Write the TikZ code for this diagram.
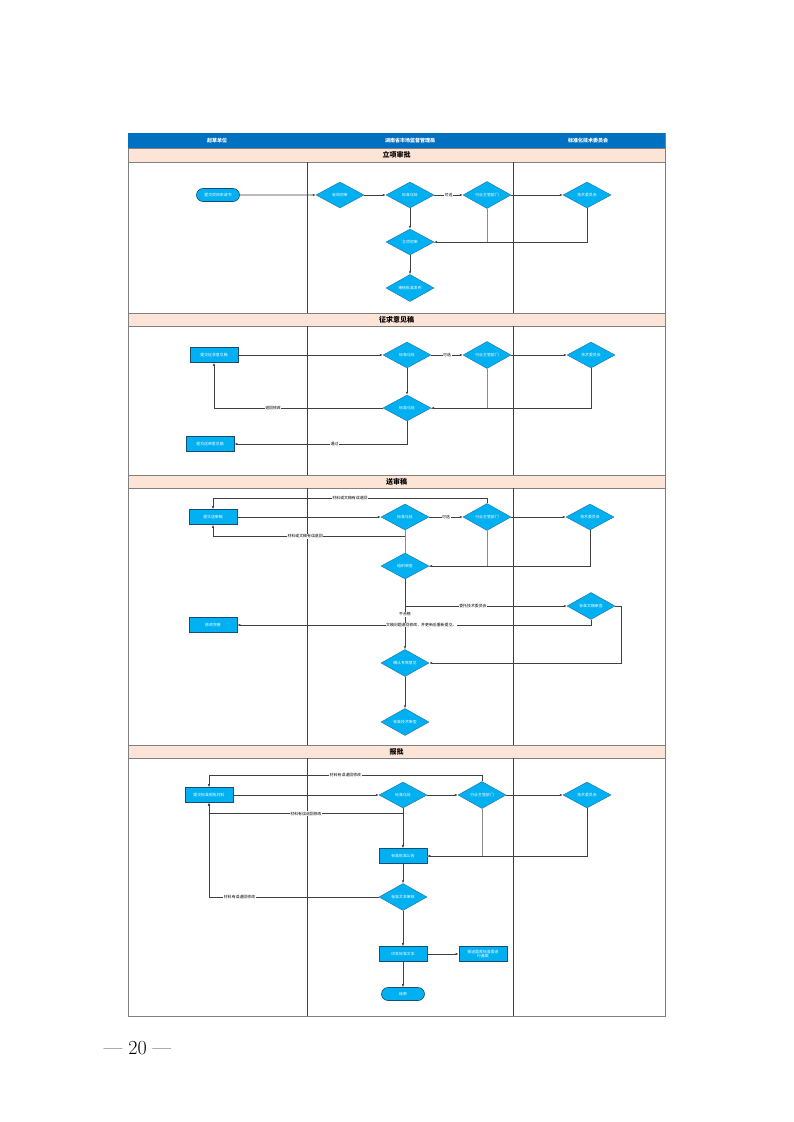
\documentclass[tikz,border=0pt]{standalone}
\usepackage{fontspec}
\newfontfamily\cjk{Noto Sans CJK SC}
\usetikzlibrary{shapes.geometric,shapes.misc,arrows.meta}
\definecolor{hdr}{HTML}{0070C0}
\definecolor{band}{HTML}{FCE4D6}
\definecolor{cy}{HTML}{00B0F0}
\definecolor{cyb}{HTML}{1F6FA8}
\definecolor{ln}{HTML}{404040}
\definecolor{frame}{HTML}{808080}
\tikzset{
  shapetext/.style={font=\cjk\fontsize{3.9}{4.5}\selectfont, text=white},
  dia/.style={diamond, draw=cyb, fill=cy, line width=0.4pt, minimum width=48pt, minimum height=26pt, inner sep=0pt, shapetext},
  pbox/.style={rectangle, draw=cyb!70!black, fill=cy, line width=0.6pt, minimum width=48pt, minimum height=15pt, inner sep=0.5pt, shapetext},
  term/.style={rounded rectangle, draw=cyb!70!black, fill=cy, line width=0.6pt, minimum width=44pt, minimum height=13pt, inner sep=0.5pt, shapetext},
  lbl/.style={fill=white, inner sep=0.6pt, font=\cjk\fontsize{3.9}{4.5}\selectfont, text=black},
  conn/.style={draw=ln, line width=0.6pt, -{Latex[length=3pt,width=2.4pt]}},
  plainln/.style={draw=ln!60, line width=0.7pt},
  divline/.style={draw=ln, line width=0.8pt},
  bandbox/.style={draw=frame, fill=band, line width=0.6pt},
  bandtitle/.style={font=\cjk\bfseries\fontsize{7}{8}\selectfont, text=black},
  hdrtitle/.style={font=\cjk\bfseries\fontsize{5}{6}\selectfont, text=white},
}
\begin{document}
\begin{tikzpicture}[x=1pt,y=-1pt]
\fill[white] (0,0) rectangle (793,1122);
\useasboundingbox (0,0) rectangle (793,1122);

% table frame
\draw[frame, line width=0.8pt] (128,133) rectangle (665,1016);
\fill[hdr] (128,133) rectangle (665,148);
\node[hdrtitle] (h1) at (217,140.5) {起草单位};
\node[hdrtitle] (h2) at (410,140.5) {湖南省市场监督管理局};
\node[hdrtitle] (h3) at (588,140.5) {标准化技术委员会};

% bands
\draw[bandbox] (128,148) rectangle (665,162);
\node[bandtitle] (t1) at (396.5,155) {立项审批};
\draw[bandbox] (128,313) rectangle (665,326);
\node[bandtitle] (t2) at (396.5,319.5) {征求意见稿};
\draw[bandbox] (128,475) rectangle (665,488);
\node[bandtitle] (t3) at (396.5,481.5) {送审稿};
\draw[bandbox] (128,745) rectangle (665,758);
\node[bandtitle] (t4) at (396.5,751.5) {报批};

% lane dividers
\foreach \a/\b in {162/313, 326/475, 488/745, 758/1016}{
  \draw[divline] (307.5,\a) -- (307.5,\b);
  \draw[divline] (513.5,\a) -- (513.5,\b);
}

% ---------- Section 1 ----------
\node[term] (s1a) at (218,195) {提交项目申请书};
\node[dia] (s1b) at (340,195) {省局初审};
\node[dia] (s1c) at (410,195) {标准化处};
\node[dia] (s1d) at (487,195) {行业主管部门};
\node[dia] (s1e) at (587,195) {技术委员会};
\node[dia] (s1f) at (410,242) {立项初审};
\node[dia] (s1g) at (410,288) {审核批准发布};
\draw[conn] (s1a) -- (s1b);
\draw[conn] (s1b) -- (s1c);
\draw[conn] (s1c) -- node[lbl]{可选} (s1d);
\draw[conn] (s1d) -- (s1e);
\draw[conn] (s1c) -- (s1f);
\draw[plainln] (s1d.south) |- (s1f.east);
\draw[conn] (s1e.south) |- (s1f.east);
\draw[conn] (s1f) -- (s1g);

% ---------- Section 2 ----------
\node[pbox] (s2a) at (214,355) {提交征求意见稿};
\node[dia] (s2b) at (407,355) {标准化处};
\node[dia] (s2c) at (487,355) {行业主管部门};
\node[dia] (s2d) at (591,355) {技术委员会};
\node[dia] (s2e) at (407,408) {标准化处};
\node[pbox] (s2f) at (210,444) {提交送审意见稿};
\draw[conn] (s2a) -- (s2b);
\draw[conn] (s2b) -- node[lbl]{可选} (s2c);
\draw[conn] (s2c) -- (s2d);
\draw[conn] (s2b) -- (s2e);
\draw[plainln] (s2c.south) |- (s2e.east);
\draw[conn] (s2d.south) |- (s2e.east);
\draw[conn] (s2e.west) -| node[lbl,pos=0.325]{退回修改} (s2a.south);
\draw[conn] (s2e.south) |- node[lbl,pos=0.71]{通过} (s2f.east);

% ---------- Section 3 ----------
\node[pbox] (s3a) at (213,517) {提交送审稿};
\node[dia] (s3b) at (405,517) {标准化处};
\node[dia] (s3c) at (487,517) {行业主管部门};
\node[dia] (s3d) at (590,517) {技术委员会};
\node[dia] (s3e) at (405,566) {组织审查};
\node[dia] (s3f) at (591,606) {标准文稿审查};
\node[pbox] (s3g) at (213,625) {修改完善};
\node[dia] (s3h) at (405,663) {确认专家意见};
\node[dia] (s3i) at (405,722) {标准技术审查};
\draw[conn] (s3a) -- (s3b);
\draw[conn] (s3b) -- node[lbl]{可选} (s3c);
\draw[conn] (s3c) -- (s3d);
\draw[conn] (s3c.north) -- ++(0,-5) -| node[lbl,pos=0.25]{材料或文稿有误退回} (s3a.north);
\draw[conn] (s3b.south) -- ++(0,6) -| node[lbl,pos=0.26]{材料或文稿有误退回} (s3a.south);
\draw[plainln] (s3b.south) -- (s3e.north);
\draw[plainln] (s3c.south) |- (s3e.east);
\draw[conn] (s3d.south) |- (s3e.east);
\draw[conn] (s3e.south) |- node[lbl,pos=0.71]{委托技术委员会} (s3f.west);
\draw[conn, line width=0.9pt] (s3e.south) -- node[lbl,pos=0.5]{不合格} (s3h.north);
\draw[conn] (s3f.south) |- node[lbl,pos=0.74]{文稿问题退回修改，并更新后重新提交。} (s3g.east);
\draw[conn] (s3f.east) -- ++(6,0) |- (s3h.east);
\draw[conn, line width=0.9pt] (s3h) -- (s3i);

% ---------- Section 4 ----------
\node[pbox] (s4a) at (209,795) {提交标准报批材料};
\node[dia] (s4b) at (403,795) {标准化处};
\node[dia] (s4c) at (482,795) {行业主管部门};
\node[dia] (s4d) at (587,795) {技术委员会};
\node[pbox] (s4e) at (403,856) {标准批准公告};
\node[dia] (s4f) at (403,897) {标准文本审核};
\node[pbox] (s4g) at (403,954) {印发标准文本};
\node[pbox, align=center] (s4h) at (483,954) {报送国家标准委进\\行备案};
\node[term] (s4i) at (403,994) {结束};
\draw[conn] (s4a) -- (s4b);
\draw[conn] (s4b) -- (s4c);
\draw[conn] (s4c) -- (s4d);
\draw[conn] (s4c.north) -- ++(0,-6) -| node[lbl,pos=0.25]{材料有误退回修改} (s4a.north);
\draw[conn] (s4b.south) -- ++(0,5.5) -| node[lbl,pos=0.25]{材料有误退回修改} (s4a.south);
\draw[conn] (s4b.south) -- (s4e.north);
\draw[plainln] (s4c.south) |- (s4e.east);
\draw[conn] (s4d.south) |- (s4e.east);
\draw[conn] (s4e) -- (s4f);
\draw[conn] (s4f.west) -| node[lbl,pos=0.41]{材料有误退回修改} (s4a.south);
\draw[conn] (s4f) -- (s4g);
\draw[conn] (s4g) -- (s4h);
\draw[conn] (s4g) -- (s4i);

% page number
\node[font=\fontsize{20}{22}\selectfont, inner sep=0pt] (pg) at (137.5,1048) {— 20 —};
\end{tikzpicture}
\end{document}
